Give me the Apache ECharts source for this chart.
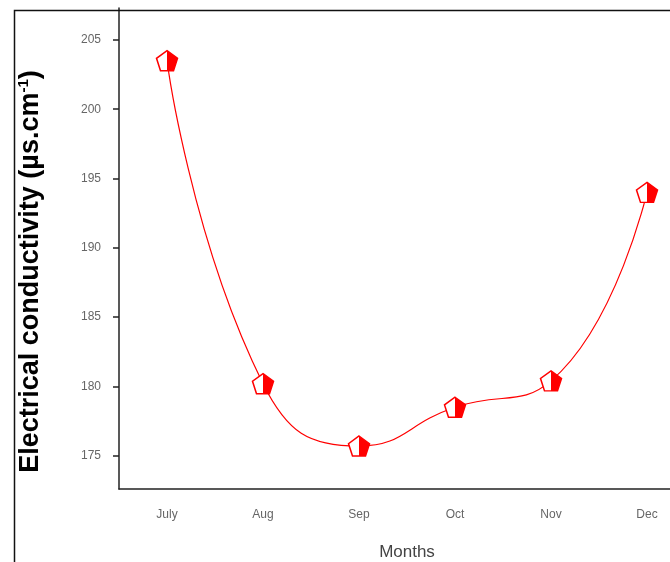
<!DOCTYPE html>
<html>
<head>
<meta charset="utf-8">
<script src="https://cdn.jsdelivr.net/npm/echarts@6/dist/echarts.min.js"></script>
<style>html,body{margin:0;padding:0;background:#fff}#c{width:670px;height:562px}</style>
</head>
<body>
<div id="c"></div>
<script>
const months = ['July', 'Aug', 'Sep', 'Oct', 'Nov', 'Dec'];
const conductivity = [203.5, 180.2, 175.7, 178.5, 180.4, 194.0];
const yTicks = [175, 180, 185, 190, 195, 200, 205];

const chart = echarts.init(document.getElementById('c'));
const pentagon = 'path://M0,-1 L0.951,-0.309 L0.588,0.809 L-0.588,0.809 L-0.951,-0.309 Z';
chart.setOption({
  animation: false,
  backgroundColor: '#fff',
  graphic: [{
    type: 'rect', left: 12, top: 8, shape: {width: 720, height: 620},
    style: {fill: 'none', stroke: '#111', lineWidth: 1.5}, z: 100
  }],
  grid: {left: 119, top: 8, height: 481, width: 576, outerBoundsMode: 'none', containLabel: false},
  xAxis: {
    type: 'category', data: months, boundaryGap: true,
    name: 'Months', nameLocation: 'middle', nameGap: 55,
    nameTextStyle: {fontFamily: 'Liberation Sans, Arial', fontSize: 17, color: '#444'},
    axisLine: {lineStyle: {color: '#222', width: 1.5}},
    axisTick: {alignWithLabel: true, length: 6, lineStyle: {color: '#222', width: 1.5}},
    axisLabel: {margin: 20, fontFamily: 'Liberation Sans, Arial', fontSize: 12, color: '#666'},
    splitLine: {show: false}
  },
  yAxis: {
    type: 'value', min: 172.6, max: 207.3,
    name: 'Electrical conductivity (µs.cm{sup|-1})', nameLocation: 'middle', nameGap: 74,
    nameTextStyle: {fontFamily: 'Liberation Sans, Arial', fontSize: 27, fontWeight: 'bold', color: '#000',
      padding: [0, 46, 0, 0],
      rich: {sup: {fontSize: 15, fontWeight: 'bold', color: '#000', verticalAlign: 'top', padding: [0, 0, 14, 0]}}},
    axisLine: {show: true, lineStyle: {color: '#222', width: 1.5}},
    axisTick: {show: true, length: 6, customValues: yTicks, lineStyle: {color: '#222', width: 1.5}},
    axisLabel: {margin: 18, customValues: yTicks, fontFamily: 'Liberation Sans, Arial', fontSize: 12, color: '#666'},
    splitLine: {show: false}
  },
  series: [{
    type: 'line', data: conductivity, smooth: 0.5,
    lineStyle: {color: '#ff0000', width: 1.2},
    symbol: pentagon, symbolSize: [21, 20],
    itemStyle: {
      color: {type: 'linear', x: 0, y: 0, x2: 1, y2: 0,
        colorStops: [{offset: 0, color: '#fff'}, {offset: 0.5, color: '#fff'}, {offset: 0.5, color: '#ff0000'}, {offset: 1, color: '#ff0000'}]},
      borderColor: '#ff0000', borderWidth: 1.5
    }
  }]
});
</script>
</body>
</html>
